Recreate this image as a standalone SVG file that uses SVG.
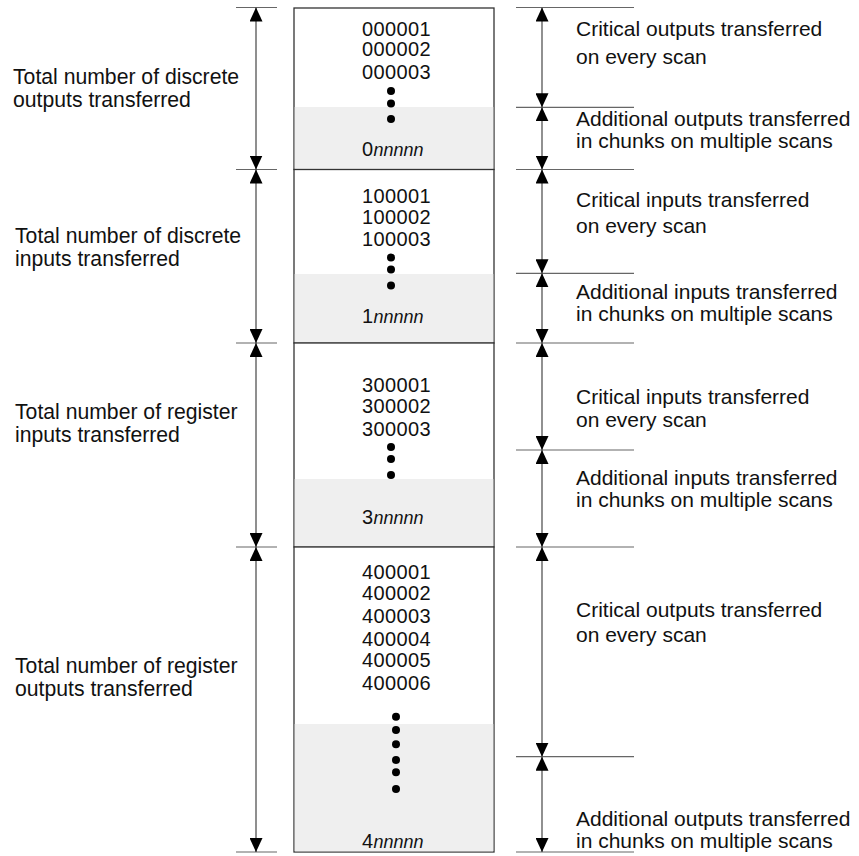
<svg xmlns="http://www.w3.org/2000/svg" width="859" height="856" viewBox="0 0 859 856">
  <style>
    text { font-family: "Liberation Sans", Arial, sans-serif; fill: #111; }
    .lbl { font-size: 21px; }
    .lblL { font-size: 21.2px; }
    .num { font-size: 20px; letter-spacing: 0.4px; }
    .it { font-style: italic; font-size: 18px; letter-spacing: 0; }
    .box { fill: #fff; stroke: #333; stroke-width: 1.3; }
    .shade { fill: #efefef; }
    .tick { stroke: #666; stroke-width: 1.2; }
    .dim { stroke: #333; stroke-width: 1.1; fill: none; marker-start: url(#ah); marker-end: url(#ah); }
    .dimR { stroke: #555; stroke-width: 1.3; fill: none; marker-start: url(#ah); marker-end: url(#ah); }
    .dot { fill: #000; }
  </style>
  <defs>
    <marker id="ah" viewBox="0 0 14 13" refX="14" refY="6.5" markerWidth="14" markerHeight="13" markerUnits="userSpaceOnUse" orient="auto-start-reverse">
      <path d="M0,0 L14,6.5 L0,13 Z" fill="#000"/>
    </marker>
  </defs>
  <rect width="859" height="856" fill="#fff"/>

  <!-- register table: four stacked blocks -->
  <g id="block-discrete-outputs">
    <rect class="box" x="294" y="8" width="200" height="161.5"/>
    <rect class="shade" x="294.7" y="107" width="198.6" height="62"/>
    <text class="num" x="362" y="36">000001</text>
    <text class="num" x="362" y="56">000002</text>
    <text class="num" x="362" y="79">000003</text>
    <circle class="dot" cx="391" cy="91" r="4"/>
    <circle class="dot" cx="391" cy="103.5" r="4"/>
    <circle class="dot" cx="391" cy="119" r="4"/>
    <text class="num" x="362" y="156">0<tspan class="it">nnnnn</tspan></text>
  </g>

  <g id="block-discrete-inputs">
    <rect class="box" x="294" y="169.5" width="200" height="173.5"/>
    <rect class="shade" x="294.7" y="274" width="198.6" height="68.3"/>
    <text class="num" x="362" y="202.5">100001</text>
    <text class="num" x="362" y="223.5">100002</text>
    <text class="num" x="362" y="246">100003</text>
    <circle class="dot" cx="391" cy="257.5" r="4"/>
    <circle class="dot" cx="391" cy="269.5" r="4"/>
    <circle class="dot" cx="391" cy="285.5" r="4"/>
    <text class="num" x="362" y="322.5">1<tspan class="it">nnnnn</tspan></text>
  </g>

  <g id="block-register-inputs">
    <rect class="box" x="294" y="343" width="200" height="204"/>
    <rect class="shade" x="294.7" y="479" width="198.6" height="67.3"/>
    <text class="num" x="362" y="391.5">300001</text>
    <text class="num" x="362" y="412.5">300002</text>
    <text class="num" x="362" y="435.5">300003</text>
    <circle class="dot" cx="391" cy="447" r="4"/>
    <circle class="dot" cx="391" cy="459" r="4"/>
    <circle class="dot" cx="391" cy="475" r="4"/>
    <text class="num" x="362" y="524">3<tspan class="it">nnnnn</tspan></text>
  </g>

  <g id="block-register-outputs">
    <rect class="box" x="294" y="547" width="200" height="305"/>
    <rect class="shade" x="294.7" y="724" width="198.6" height="127.3"/>
    <text class="num" x="362" y="579">400001</text>
    <text class="num" x="362" y="600">400002</text>
    <text class="num" x="362" y="623">400003</text>
    <text class="num" x="362" y="646">400004</text>
    <text class="num" x="362" y="667">400005</text>
    <text class="num" x="362" y="690">400006</text>
    <circle class="dot" cx="396" cy="716.7" r="4"/>
    <circle class="dot" cx="396" cy="730" r="4"/>
    <circle class="dot" cx="396" cy="744.3" r="4"/>
    <circle class="dot" cx="396" cy="760" r="4"/>
    <circle class="dot" cx="396" cy="772.3" r="4"/>
    <circle class="dot" cx="396" cy="789" r="4"/>
    <text class="num" x="362" y="848">4<tspan class="it">nnnnn</tspan></text>
  </g>

  <!-- dimension lines, ticks and arrows -->
  <g id="connectors">
    <!-- left ticks -->
    <line class="tick" x1="236" y1="7.5" x2="277" y2="7.5"/>
    <line class="tick" x1="236" y1="169.5" x2="277" y2="169.5"/>
    <line class="tick" x1="236" y1="343" x2="277" y2="343"/>
    <line class="tick" x1="236" y1="547" x2="277" y2="547"/>
    <line class="tick" x1="236" y1="852" x2="277" y2="852"/>
    <!-- left spans -->
    <line class="dim" x1="256" y1="7.5" x2="256" y2="169.5"/>
    <line class="dim" x1="256" y1="169.5" x2="256" y2="343"/>
    <line class="dim" x1="256" y1="343" x2="256" y2="547"/>
    <line class="dim" x1="256" y1="547" x2="256" y2="852"/>
    <!-- right ticks -->
    <line class="tick" x1="516" y1="7.5" x2="634" y2="7.5"/>
    <line class="tick" x1="516" y1="107.3" x2="634" y2="107.3"/>
    <line class="tick" x1="516" y1="169.5" x2="634" y2="169.5"/>
    <line class="tick" x1="516" y1="273.3" x2="634" y2="273.3"/>
    <line class="tick" x1="516" y1="343" x2="634" y2="343"/>
    <line class="tick" x1="516" y1="450" x2="634" y2="450"/>
    <line class="tick" x1="516" y1="547" x2="634" y2="547"/>
    <line class="tick" x1="516" y1="756.7" x2="634" y2="756.7"/>
    <line class="tick" x1="516" y1="852" x2="634" y2="852"/>
    <!-- right spans -->
    <line class="dimR" x1="542" y1="7.5" x2="542" y2="107.3"/>
    <line class="dimR" x1="542" y1="107.3" x2="542" y2="169.5"/>
    <line class="dimR" x1="542" y1="169.5" x2="542" y2="273.3"/>
    <line class="dimR" x1="542" y1="273.3" x2="542" y2="343"/>
    <line class="dimR" x1="542" y1="343" x2="542" y2="450"/>
    <line class="dimR" x1="542" y1="450" x2="542" y2="547"/>
    <line class="dimR" x1="542" y1="547" x2="542" y2="756.7"/>
    <line class="dimR" x1="542" y1="756.7" x2="542" y2="852"/>
  </g>

  <!-- left captions -->
  <g id="caption-left">
    <text class="lblL" x="13" y="84">Total number of discrete</text>
    <text class="lblL" x="13" y="107">outputs transferred</text>
    <text class="lblL" x="15" y="243">Total number of discrete</text>
    <text class="lblL" x="15" y="266">inputs transferred</text>
    <text class="lblL" x="15" y="419">Total number of register</text>
    <text class="lblL" x="15" y="442">inputs transferred</text>
    <text class="lblL" x="15" y="673">Total number of register</text>
    <text class="lblL" x="15" y="696">outputs transferred</text>
  </g>

  <!-- right captions -->
  <g id="caption-right">
    <text class="lbl" x="576" y="36">Critical outputs transferred</text>
    <text class="lbl" x="576" y="64">on every scan</text>
    <text class="lbl" x="576" y="126">Additional outputs transferred</text>
    <text class="lbl" x="576" y="148.3">in chunks on multiple scans</text>
    <text class="lbl" x="576" y="206.7">Critical inputs transferred</text>
    <text class="lbl" x="576" y="233">on every scan</text>
    <text class="lbl" x="576" y="299">Additional inputs transferred</text>
    <text class="lbl" x="576" y="321">in chunks on multiple scans</text>
    <text class="lbl" x="576" y="404">Critical inputs transferred</text>
    <text class="lbl" x="576" y="427">on every scan</text>
    <text class="lbl" x="576" y="485">Additional inputs transferred</text>
    <text class="lbl" x="576" y="507">in chunks on multiple scans</text>
    <text class="lbl" x="576" y="616.7">Critical outputs transferred</text>
    <text class="lbl" x="576" y="641.7">on every scan</text>
    <text class="lbl" x="576" y="826">Additional outputs transferred</text>
    <text class="lbl" x="576" y="848">in chunks on multiple scans</text>
  </g>
</svg>
